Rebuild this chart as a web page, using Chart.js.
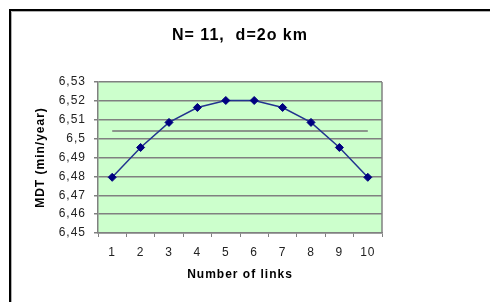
<!DOCTYPE html>
<html>
<head>
<meta charset="utf-8">
<script src="https://cdn.jsdelivr.net/npm/chart.js@4/dist/chart.umd.min.js"></script>
<style>
  html, body { margin: 0; padding: 0; background: #ffffff; }
  #wrap { width: 490px; height: 302px; position: relative; }
</style>
</head>
<body>
<div id="wrap"><canvas id="c" width="490" height="302"></canvas></div>
<script>
const categories = ['1', '2', '3', '4', '5', '6', '7', '8', '9', '10'];
const mdtValues = [6.4795, 6.4953, 6.5086, 6.5165, 6.5202, 6.5202, 6.5165, 6.5086, 6.4953, 6.4795];
const averageValues = [6.504, 6.504, 6.504, 6.504, 6.504, 6.504, 6.504, 6.504, 6.504, 6.504];
const yTickValues = [6.45, 6.46, 6.47, 6.48, 6.49, 6.5, 6.51, 6.52, 6.53];
const titleText = 'N= 11,  d=2o km';
const xTitle = 'Number of links';
const yTitle = 'MDT (min/year)';

const AREA = { left: 98, right: 382, top: 82, bottom: 233 };
const FONT = 'Liberation Sans, Arial, sans-serif';
const SPACING = '1px';

const spacingPlugin = {
  id: 'spacing',
  beforeUpdate(chart) { chart.ctx.letterSpacing = SPACING; },
  beforeLayout(chart) { chart.ctx.letterSpacing = SPACING; },
  beforeDraw(chart) { chart.ctx.letterSpacing = SPACING; }
};

const framePlugin = {
  id: 'frame',
  beforeDraw(chart) {
    const ctx = chart.ctx;
    const ca = chart.chartArea;
    ctx.save();
    ctx.strokeStyle = '#b0b0b0';
    ctx.lineWidth = 1;
    ctx.beginPath();
    ctx.moveTo(11.5, 302); ctx.lineTo(11.5, 11.5); ctx.lineTo(490, 11.5);
    ctx.stroke();
    ctx.strokeStyle = '#000000';
    ctx.lineWidth = 2;
    ctx.beginPath();
    ctx.moveTo(10, 302); ctx.lineTo(10, 10); ctx.lineTo(490, 10);
    ctx.stroke();
    ctx.fillStyle = '#ccffcc';
    ctx.fillRect(ca.left, ca.top, ca.right - ca.left, ca.bottom - ca.top);
    ctx.restore();
  },
  afterDraw(chart) {
    const ctx = chart.ctx;
    const ca = chart.chartArea;
    ctx.save();
    ctx.strokeStyle = '#808080';
    ctx.lineWidth = 1.5;
    ctx.beginPath();
    ctx.moveTo(ca.right, ca.top); ctx.lineTo(ca.right, ca.bottom);
    ctx.stroke();
    ctx.restore();
  }
};

const fmt = v => {
  let s = (Math.round(v * 100) / 100).toFixed(2);
  s = s.replace(/0$/, '');
  return s.replace('.', ',');
};

new Chart(document.getElementById('c'), {
  type: 'line',
  data: {
    labels: categories,
    datasets: [
      {
        label: 'Average',
        data: averageValues,
        borderColor: '#8c968c',
        borderWidth: 2,
        pointRadius: 0,
        fill: false,
        tension: 0,
        order: 2
      },
      {
        label: 'MDT',
        data: mdtValues,
        borderColor: '#22338f',
        borderWidth: 1.5,
        pointStyle: 'rectRot',
        pointRadius: 4,
        pointBackgroundColor: '#000080',
        pointBorderColor: '#000080',
        pointBorderWidth: 1,
        fill: false,
        tension: 0,
        order: 1
      }
    ]
  },
  options: {
    responsive: false,
    animation: false,
    devicePixelRatio: 1,
    layout: { padding: { left: 0, right: 490 - AREA.right, top: 0, bottom: 0 } },
    plugins: {
      legend: { display: false },
      tooltip: { enabled: false },
      title: {
        display: true,
        fullSize: false,
        text: titleText,
        color: '#000000',
        font: { family: FONT, size: 16, weight: 'bold', lineHeight: 1.2 },
        padding: { top: 26, bottom: AREA.top - 26 - 19.2 }
      }
    },
    scales: {
      x: {
        type: 'category',
        offset: true,
        grid: {
          display: true,
          offset: true,
          drawOnChartArea: false,
          drawTicks: true,
          tickLength: 4,
          color: '#808080',
          lineWidth: 1
        },
        border: { display: true, color: '#808080', width: 1.5 },
        ticks: {
          color: '#222222',
          padding: 8,
          maxRotation: 0,
          autoSkip: false,
          font: { family: FONT, size: 12 }
        },
        title: {
          display: true,
          text: xTitle,
          color: '#000000',
          font: { family: FONT, size: 12, weight: 'bold', lineHeight: 1.2 },
          padding: { top: 0, bottom: 20 }
        },
        afterFit(scale) { scale.height = 302 - AREA.bottom; }
      },
      y: {
        min: 6.45,
        max: 6.53,
        afterBuildTicks(scale) { scale.ticks = yTickValues.map(v => ({ value: v })); },
        grid: {
          display: true,
          drawOnChartArea: true,
          drawTicks: true,
          tickLength: 4,
          color: '#808080',
          lineWidth: 1.5
        },
        border: { display: true, color: '#808080', width: 1.5 },
        ticks: {
          color: '#222222',
          padding: 8,
          callback: (v) => fmt(v),
          font: { family: FONT, size: 12 }
        },
        title: {
          display: true,
          text: yTitle,
          color: '#000000',
          font: { family: FONT, size: 12, weight: 'bold', lineHeight: 1.2 },
          padding: { top: 33, bottom: 0 }
        },
        afterFit(scale) { scale.width = AREA.left; }
      }
    }
  },
  plugins: [spacingPlugin, framePlugin]
});
</script>
</body>
</html>
